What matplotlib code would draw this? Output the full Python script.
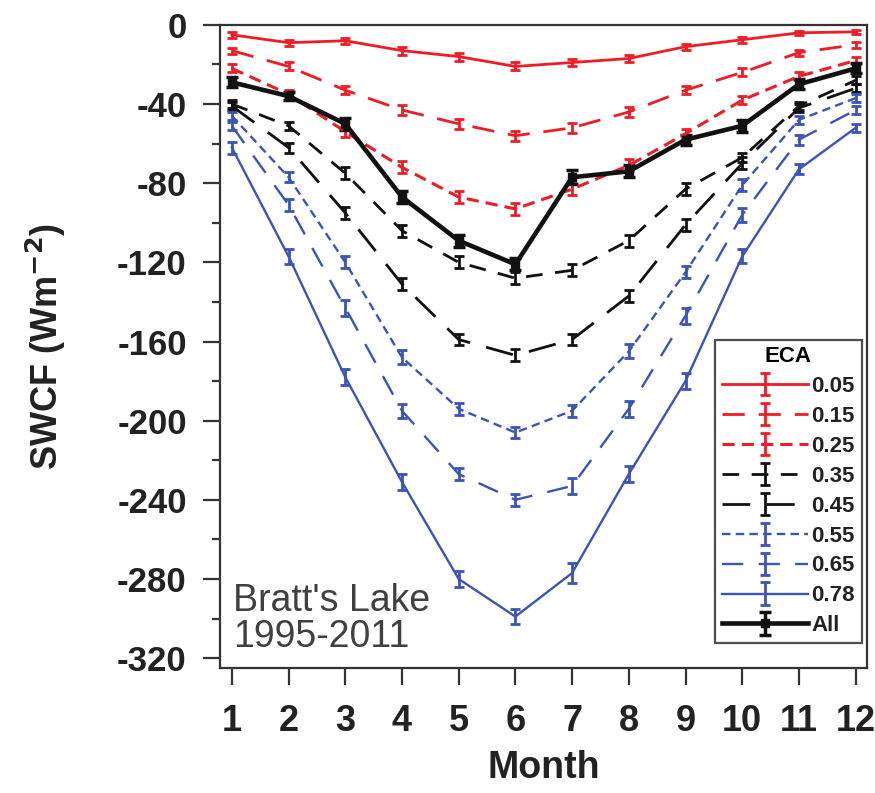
import numpy as np
import matplotlib
matplotlib.use("Agg")
import matplotlib.pyplot as plt
from matplotlib.ticker import MultipleLocator

plt.rcParams['font.family'] = ['Liberation Sans', 'DejaVu Sans']
plt.rcParams['axes.unicode_minus'] = False

months = np.arange(1, 13)

# monthly mean SWCF (W m-2) per ECA class
swcf_005 = [-5, -9, -8, -13, -16, -21, -19, -17, -11, -7.5, -4, -3.5]
swcf_015 = [-13, -21, -33, -43, -50, -56, -52, -44, -33, -24, -14, -10]
swcf_025 = [-22, -35, -54, -72, -87, -93, -83, -71, -55, -38, -26, -18]
swcf_035 = [-40, -51, -75, -104, -120, -128, -124, -109, -83, -67, -41, -28]
swcf_045 = [-41, -62, -95, -131, -159, -167, -159, -137, -101, -70, -42, -32]
swcf_055 = [-46, -77, -120, -168, -194, -206, -195, -165, -125, -81, -48, -37]
swcf_065 = [-51, -91, -143, -195, -227, -240, -233, -194, -147, -96, -58, -43]
swcf_078 = [-62, -117, -178, -231, -280, -299, -277, -227, -180, -117, -73, -52]
swcf_all = [-29, -36, -50, -87, -109, -121, -77, -74, -58, -51, -30, -22]

# standard errors
err_005 = [1.5, 1.5, 1.5, 2, 2, 2, 2, 2, 1.5, 1.5, 1, 1]
err_015 = [1.5, 2, 2, 2.5, 2.5, 2.5, 2.5, 2.5, 2, 2, 1.5, 1.5]
err_025 = [2, 2, 2.5, 3, 3, 3, 3, 3, 2.5, 2, 2, 2]
err_035 = [2, 2, 3, 3, 3, 3, 3, 3, 3, 2.5, 2, 2]
err_045 = [2, 2.5, 3, 3, 3, 3, 3, 3, 3, 3, 2, 2]
err_055 = [2, 2.5, 3, 3.5, 3, 3, 3, 3.5, 3, 3, 2, 2]
err_065 = [2, 3, 4, 3.5, 3, 3, 4, 4, 4, 3.5, 2.5, 2]
err_078 = [3, 4, 4, 4, 4, 4, 5, 4, 4, 3.5, 2.5, 2]
err_all = [2.5, 2, 3, 3, 3, 3, 3.5, 3, 2.5, 3, 2.5, 2.5]

eca_labels = ['0.05', '0.15', '0.25', '0.35', '0.45', '0.55', '0.65', '0.78', 'All']

red = '#ee1c24'
blue = '#3b54b6'
blk = '#111111'

series = [
    (swcf_005, err_005, red, '-', 2.0),
    (swcf_015, err_015, red, (0, (8, 5)), 2.0),
    (swcf_025, err_025, red, (0, (4, 2.3)), 2.2),
    (swcf_035, err_035, blk, (0, (6, 4.5)), 2.0),
    (swcf_045, err_045, blk, (0, (10, 6)), 2.0),
    (swcf_055, err_055, blue, (0, (3.6, 2.2)), 1.7),
    (swcf_065, err_065, blue, (0, (9, 6.5)), 1.7),
    (swcf_078, err_078, blue, '-', 1.7),
]

fig = plt.figure(figsize=(8.75, 7.93), dpi=100)
ax = fig.add_axes([0.2514, 0.1576, 0.7394, 0.811])

for (vals, err, col, ls, lw), lab in zip(series, eca_labels[:-1]):
    eb = ax.errorbar(months, vals, yerr=err, color=col, ls=ls, lw=lw,
                     elinewidth=2, capsize=3.5, capthick=2, label=lab)
    eb[-1][0].set_linestyle('-')

ax.errorbar(months, swcf_all, yerr=err_all, color=blk, lw=3.3, marker='s',
            ms=6, elinewidth=2.5, capsize=4, capthick=2.5, label='All')

ax.set_xlim(0.79, 12.2)
ax.set_ylim(-325, 0)
ax.set_xticks(months)
ax.yaxis.set_major_locator(MultipleLocator(40))
ax.yaxis.set_minor_locator(MultipleLocator(20))

for s in ax.spines.values():
    s.set_color('#333333')
    s.set_linewidth(1.6)

ax.tick_params(axis='both', which='major', direction='out', length=12,
               width=1.6, color='#333333')
ax.tick_params(axis='y', which='minor', direction='out', length=6,
               width=1.6, color='#333333')
ax.tick_params(axis='y', labelsize=25, pad=12)
ax.tick_params(axis='x', labelsize=26, pad=14)
for t in ax.get_xticklabels() + ax.get_yticklabels():
    t.set_fontweight('bold')
    t.set_color('#222222')

ax.set_xlabel('Month', fontsize=27, fontweight='bold', color='#222222', labelpad=8)
ax.set_ylabel('SWCF (Wm$^{\\mathbf{-2}}$)', fontsize=26, fontweight='bold', color='#222222')
ax.yaxis.set_label_coords(-0.235, 0.5)

ax.text(0.02, 0.02, "Bratt's Lake\n1995-2011", transform=ax.transAxes,
        fontsize=27, color='#404040', ha='left', va='bottom', linespacing=1.0)

leg = ax.legend(title='ECA', loc='lower right', bbox_to_anchor=(0.992, 0.039),
                fontsize=16, title_fontsize=16, frameon=True, fancybox=False,
                edgecolor='#222222', handlelength=3.9, handletextpad=0.15,
                labelspacing=0.4, borderpad=0.3, borderaxespad=0)
leg.get_frame().set_linewidth(1.6)
leg.get_title().set_fontweight('bold')
for t in leg.get_texts():
    t.set_fontweight('bold')
    t.set_color('#222222')

fig.savefig('out.png', dpi=100)
